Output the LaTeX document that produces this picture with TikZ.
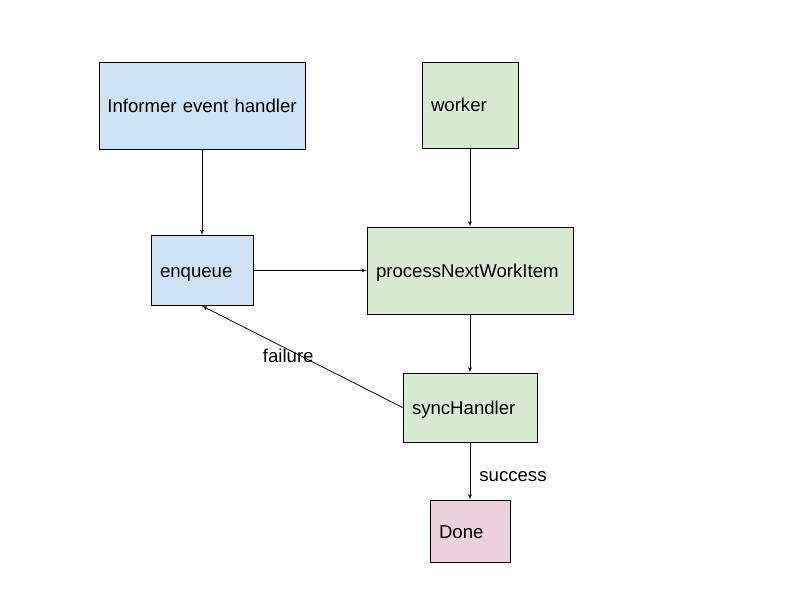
\documentclass[tikz,border=0pt]{standalone}
\usepackage{fontspec}
\setmainfont{Liberation Sans}
\usetikzlibrary{shapes,arrows}
\definecolor{infoblue}{HTML}{CFE2F3}
\definecolor{workgreen}{HTML}{D9EAD3}
\definecolor{donepink}{HTML}{EAD1DC}
\tikzstyle{block} = [rectangle, draw, line width=0.8pt, align=left,
    inner xsep=9pt, inner ysep=0pt, text height=14pt, text depth=0pt,
    font=\fontsize{18.6}{21}\selectfont]
\tikzstyle{edgelabel} = [inner sep=0pt, font=\fontsize{18.6}{21}\selectfont]

\begin{document}
\begin{tikzpicture}[x=1pt, y=1pt, line width=0.8pt]
		\useasboundingbox (0,0) rectangle (800,600);
		\node [block, fill=infoblue, align=center, inner xsep=3pt, text width=200pt, minimum height=87pt] (informer) at (202,494.5) {Informer event handler};
		\node [block, fill=workgreen, text width=78pt, minimum height=86pt] (worker) at (470,495) {worker};
		\node [block, fill=infoblue, text width=84pt, minimum height=70pt] (enqueue) at (202,329.5) {enqueue};
		\node [block, fill=workgreen, text width=188pt, minimum height=87pt] (process) at (470,329.5) {processNextWorkItem};
		\node [block, fill=workgreen, text width=116pt, minimum height=69pt] (sync) at (470,192.5) {syncHandler};
		\node [block, fill=donepink, text width=62pt, minimum height=62pt] (done) at (470,69) {Done};
		
		
		\draw [-latex'] (informer) -- (enqueue);
		\draw [-latex'] (worker) -- (process);
		\draw [-latex'] (enqueue) -- (process);
		\draw [-latex'] (process) -- (sync);
		\draw [-latex'] (sync.west) -- node [edgelabel, pos=0.57, yshift=-6pt] {failure} (enqueue.south);
		\draw [-latex'] (sync) -- node [edgelabel, right, xshift=9pt, yshift=-6pt] {success} (done);
		
		\end{tikzpicture}
\end{document}
